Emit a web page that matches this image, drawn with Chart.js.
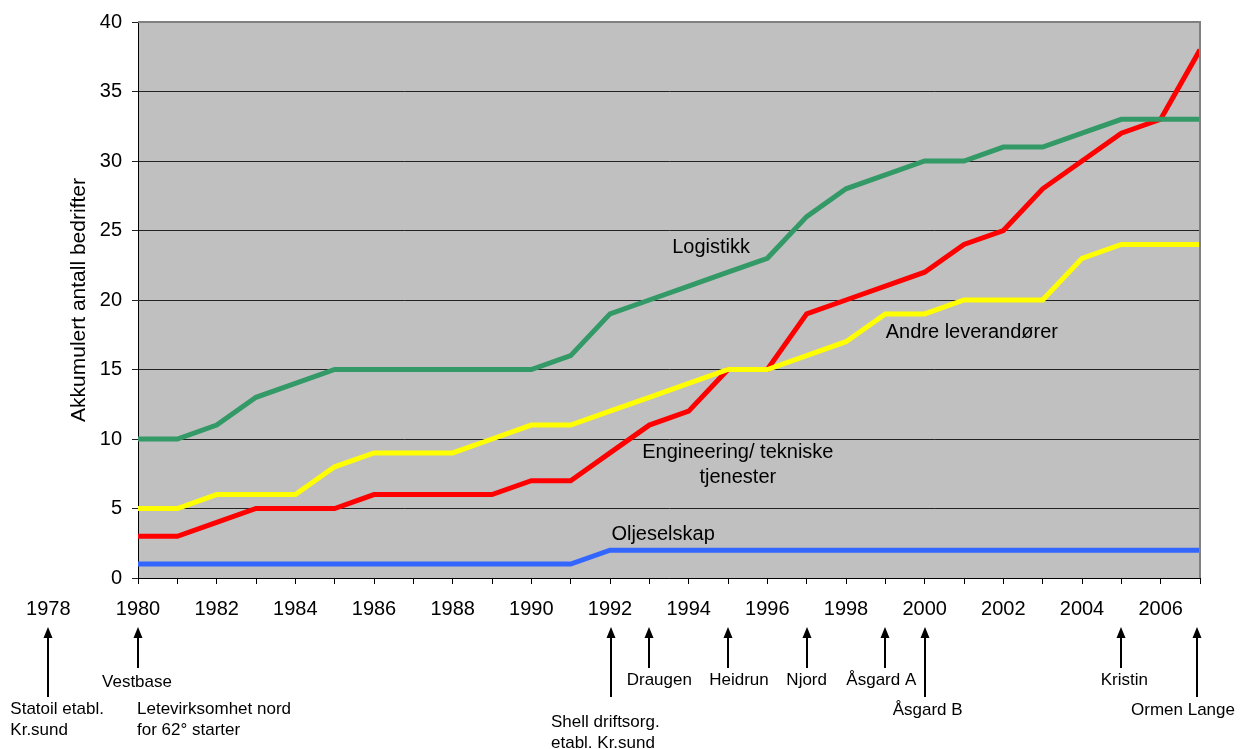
<!DOCTYPE html>
<html>
<head>
<meta charset="utf-8">
<script src="https://cdn.jsdelivr.net/npm/chart.js@4/dist/chart.umd.min.js"></script>
<style>
html,body{margin:0;padding:0;background:#fff;}
#wrap{width:1240px;height:749px;position:relative;}
</style>
</head>
<body>
<div id="wrap"><canvas id="c" width="1240" height="749"></canvas></div>
<script>
// ---- data ----
const years = [1980,1981,1982,1983,1984,1985,1986,1987,1988,1989,1990,1991,1992,1993,1994,1995,1996,1997,1998,1999,2000,2001,2002,2003,2004,2005,2006,2007];
const logistikk   = [10,10,11,13,14,15,15,15,15,15,15,16,19,20,21,22,23,26,28,29,30,30,31,31,32,33,33,33];
const andreLev    = [5,5,6,6,6,8,9,9,9,10,11,11,12,13,14,15,15,16,17,19,19,20,20,20,23,24,24,24];
const engineering = [3,3,4,5,5,5,6,6,6,6,7,7,9,11,12,15,15,19,20,21,22,24,25,28,30,32,33,38];
const oljeselskap = [1,1,1,1,1,1,1,1,1,1,1,1,2,2,2,2,2,2,2,2,2,2,2,2,2,2,2,2];
const seriesNames = ['Logistikk','Andre leverandører','Engineering/ tekniske tjenester','Oljeselskap'];
const yTicks = [0,5,10,15,20,25,30,35,40];
const extraYearLabel = 1978;
// events shown below the time axis
const eventYears  = [1978, 1980, 1980, 1992, 1993, 1995, 1997, 1999, 2000, 2005, 2007];
const eventLabels = [
  ['Statoil etabl.','Kr.sund'],
  ['Vestbase'],
  ['Letevirksomhet nord','for 62° starter'],
  ['Shell driftsorg.','etabl. Kr.sund'],
  ['Draugen'],
  ['Heidrun'],
  ['Njord'],
  ['Åsgard A'],
  ['Åsgard B'],
  ['Kristin'],
  ['Ormen Lange']
];

// ---- layout / style (not data) ----
const FONT = '"Liberation Sans", Arial, Helvetica, sans-serif';
const colors = ['#339966','#FFFF00','#FF0000','#3366FF'];
// per event: arrow (none/short/long), arrow dx, text align, text dx, first baseline offset below axis
const eventStyle = [
  {arrow:'long',  adx:-11, align:'left',   tdx:-49, base:136},
  {arrow:'short', adx:0,   align:'center', tdx:-1,  base:109},
  {arrow:'none',  adx:0,   align:'left',   tdx:-1,  base:136},
  {arrow:'long',  adx:1,   align:'left',   tdx:-59, base:149},
  {arrow:'short', adx:0,   align:'center', tdx:10,  base:107},
  {arrow:'short', adx:0,   align:'center', tdx:11,  base:107},
  {arrow:'short', adx:0,   align:'center', tdx:0,   base:107},
  {arrow:'short', adx:0,   align:'center', tdx:-4,  base:107},
  {arrow:'long',  adx:0,   align:'center', tdx:3,   base:137},
  {arrow:'short', adx:0,   align:'center', tdx:3,   base:107},
  {arrow:'long',  adx:-3,  align:'center', tdx:-17, base:137}
];
// series label anchors in data units: [year, value] for first baseline
const labelAnchors = [[1994.57,23.4],[2001.2,17.3],[1995.25,8.6],[1993.35,2.7]];

const mk = arr => years.map((y,i)=>({x:y,y:arr[i]}));

const bgPlugin = {
  id:'bg',
  beforeDraw(chart){
    const {ctx, chartArea:a} = chart;
    ctx.save();
    ctx.fillStyle = '#C0C0C0';
    ctx.fillRect(a.left, a.top, a.right-a.left, a.bottom-a.top);
    ctx.restore();
  },
  afterDatasetsDraw(chart){
    const {ctx, chartArea:a, scales} = chart;
    const xs = scales.x, ys = scales.y;
    ctx.save();
    // top/right gray border
    ctx.strokeStyle = '#808080';
    ctx.lineWidth = 2;
    ctx.beginPath();
    ctx.moveTo(a.left, a.top);
    ctx.lineTo(a.right, a.top);
    ctx.lineTo(a.right, a.bottom);
    ctx.stroke();
    // series labels
    ctx.fillStyle = '#000';
    ctx.font = '20px ' + FONT;
    ctx.textAlign = 'center';
    ctx.textBaseline = 'alphabetic';
    seriesNames.forEach((name,i)=>{
      const x = xs.getPixelForValue(labelAnchors[i][0]);
      const y = ys.getPixelForValue(labelAnchors[i][1]);
      let lines = [name];
      if (i===2) lines = ['Engineering/ tekniske','tjenester'];
      lines.forEach((l,k)=>ctx.fillText(l, x, y + k*25));
    });
    ctx.restore();
  },
  afterDraw(chart){
    const {ctx, chartArea:a, scales} = chart;
    const xs = scales.x;
    ctx.save();
    // extra year label
    ctx.fillStyle = '#000';
    ctx.font = '20px ' + FONT;
    ctx.textAlign = 'center';
    ctx.textBaseline = 'alphabetic';
    ctx.fillText(String(extraYearLabel), xs.getPixelForValue(extraYearLabel) - 11, a.bottom + 37);
    // events
    ctx.font = '17px ' + FONT;
    eventYears.forEach((yr,i)=>{
      const st = eventStyle[i];
      const x0 = xs.getPixelForValue(yr);
      if (st.arrow !== 'none'){
        const ax = Math.round(x0 + st.adx);
        const tip = a.bottom + 49;
        const end = a.bottom + (st.arrow==='long' ? 119 : 90);
        ctx.strokeStyle = '#000';
        ctx.lineWidth = 2;
        ctx.beginPath();
        ctx.moveTo(ax, tip + 8);
        ctx.lineTo(ax, end);
        ctx.stroke();
        ctx.fillStyle = '#000';
        ctx.beginPath();
        ctx.moveTo(ax, tip);
        ctx.lineTo(ax - 4.5, tip + 11);
        ctx.lineTo(ax + 4.5, tip + 11);
        ctx.closePath();
        ctx.fill();
      }
      ctx.fillStyle = '#000';
      ctx.textAlign = st.align;
      eventLabels[i].forEach((l,k)=>{
        ctx.fillText(l, x0 + st.tdx, a.bottom + st.base + k*21);
      });
    });
    ctx.restore();
  }
};

new Chart(document.getElementById('c'), {
  type:'line',
  data:{
    datasets:[
      {label:seriesNames[0], data:mk(logistikk),   borderColor:colors[0]},
      {label:seriesNames[1], data:mk(andreLev),    borderColor:colors[1]},
      {label:seriesNames[2], data:mk(engineering), borderColor:colors[2]},
      {label:seriesNames[3], data:mk(oljeselskap), borderColor:colors[3]}
    ].map(d=>Object.assign(d,{borderWidth:5, pointRadius:0, tension:0, fill:false, borderJoinStyle:'miter'}))
  },
  options:{
    responsive:false,
    animation:false,
    devicePixelRatio:1,
    layout:{padding:{top:22,right:40,bottom:0,left:0}},
    plugins:{legend:{display:false}, tooltip:{enabled:false}},
    scales:{
      x:{
        type:'linear', min:years[0], max:years[years.length-1],
        afterFit(s){ s.height = 171; },
        afterBuildTicks(s){ s.ticks = years.map(v=>({value:v})); },
        ticks:{
          autoSkip:false, maxRotation:0, padding:13, color:'#000',
          font:{family:FONT, size:20},
          callback:v => (v % 2 === 0 ? String(v) : '')
        },
        grid:{drawOnChartArea:false, drawTicks:true, tickLength:6, color:'#000', lineWidth:1},
        border:{display:true, color:'#000', width:1}
      },
      y:{
        min:0, max:40,
        afterFit(s){ s.width = 138; },
        afterBuildTicks(s){ s.ticks = yTicks.map(v=>({value:v})); },
        ticks:{padding:10, color:'#000', font:{family:FONT, size:20}},
        grid:{drawOnChartArea:true, drawTicks:true, tickLength:6, color:'#222', lineWidth:1},
        border:{display:true, color:'#000', width:1},
        title:{display:true, text:'Akkumulert antall bedrifter', color:'#000', font:{family:FONT, size:21}, padding:{top:67,bottom:0}}
      }
    }
  },
  plugins:[bgPlugin]
});
</script>
</body>
</html>
